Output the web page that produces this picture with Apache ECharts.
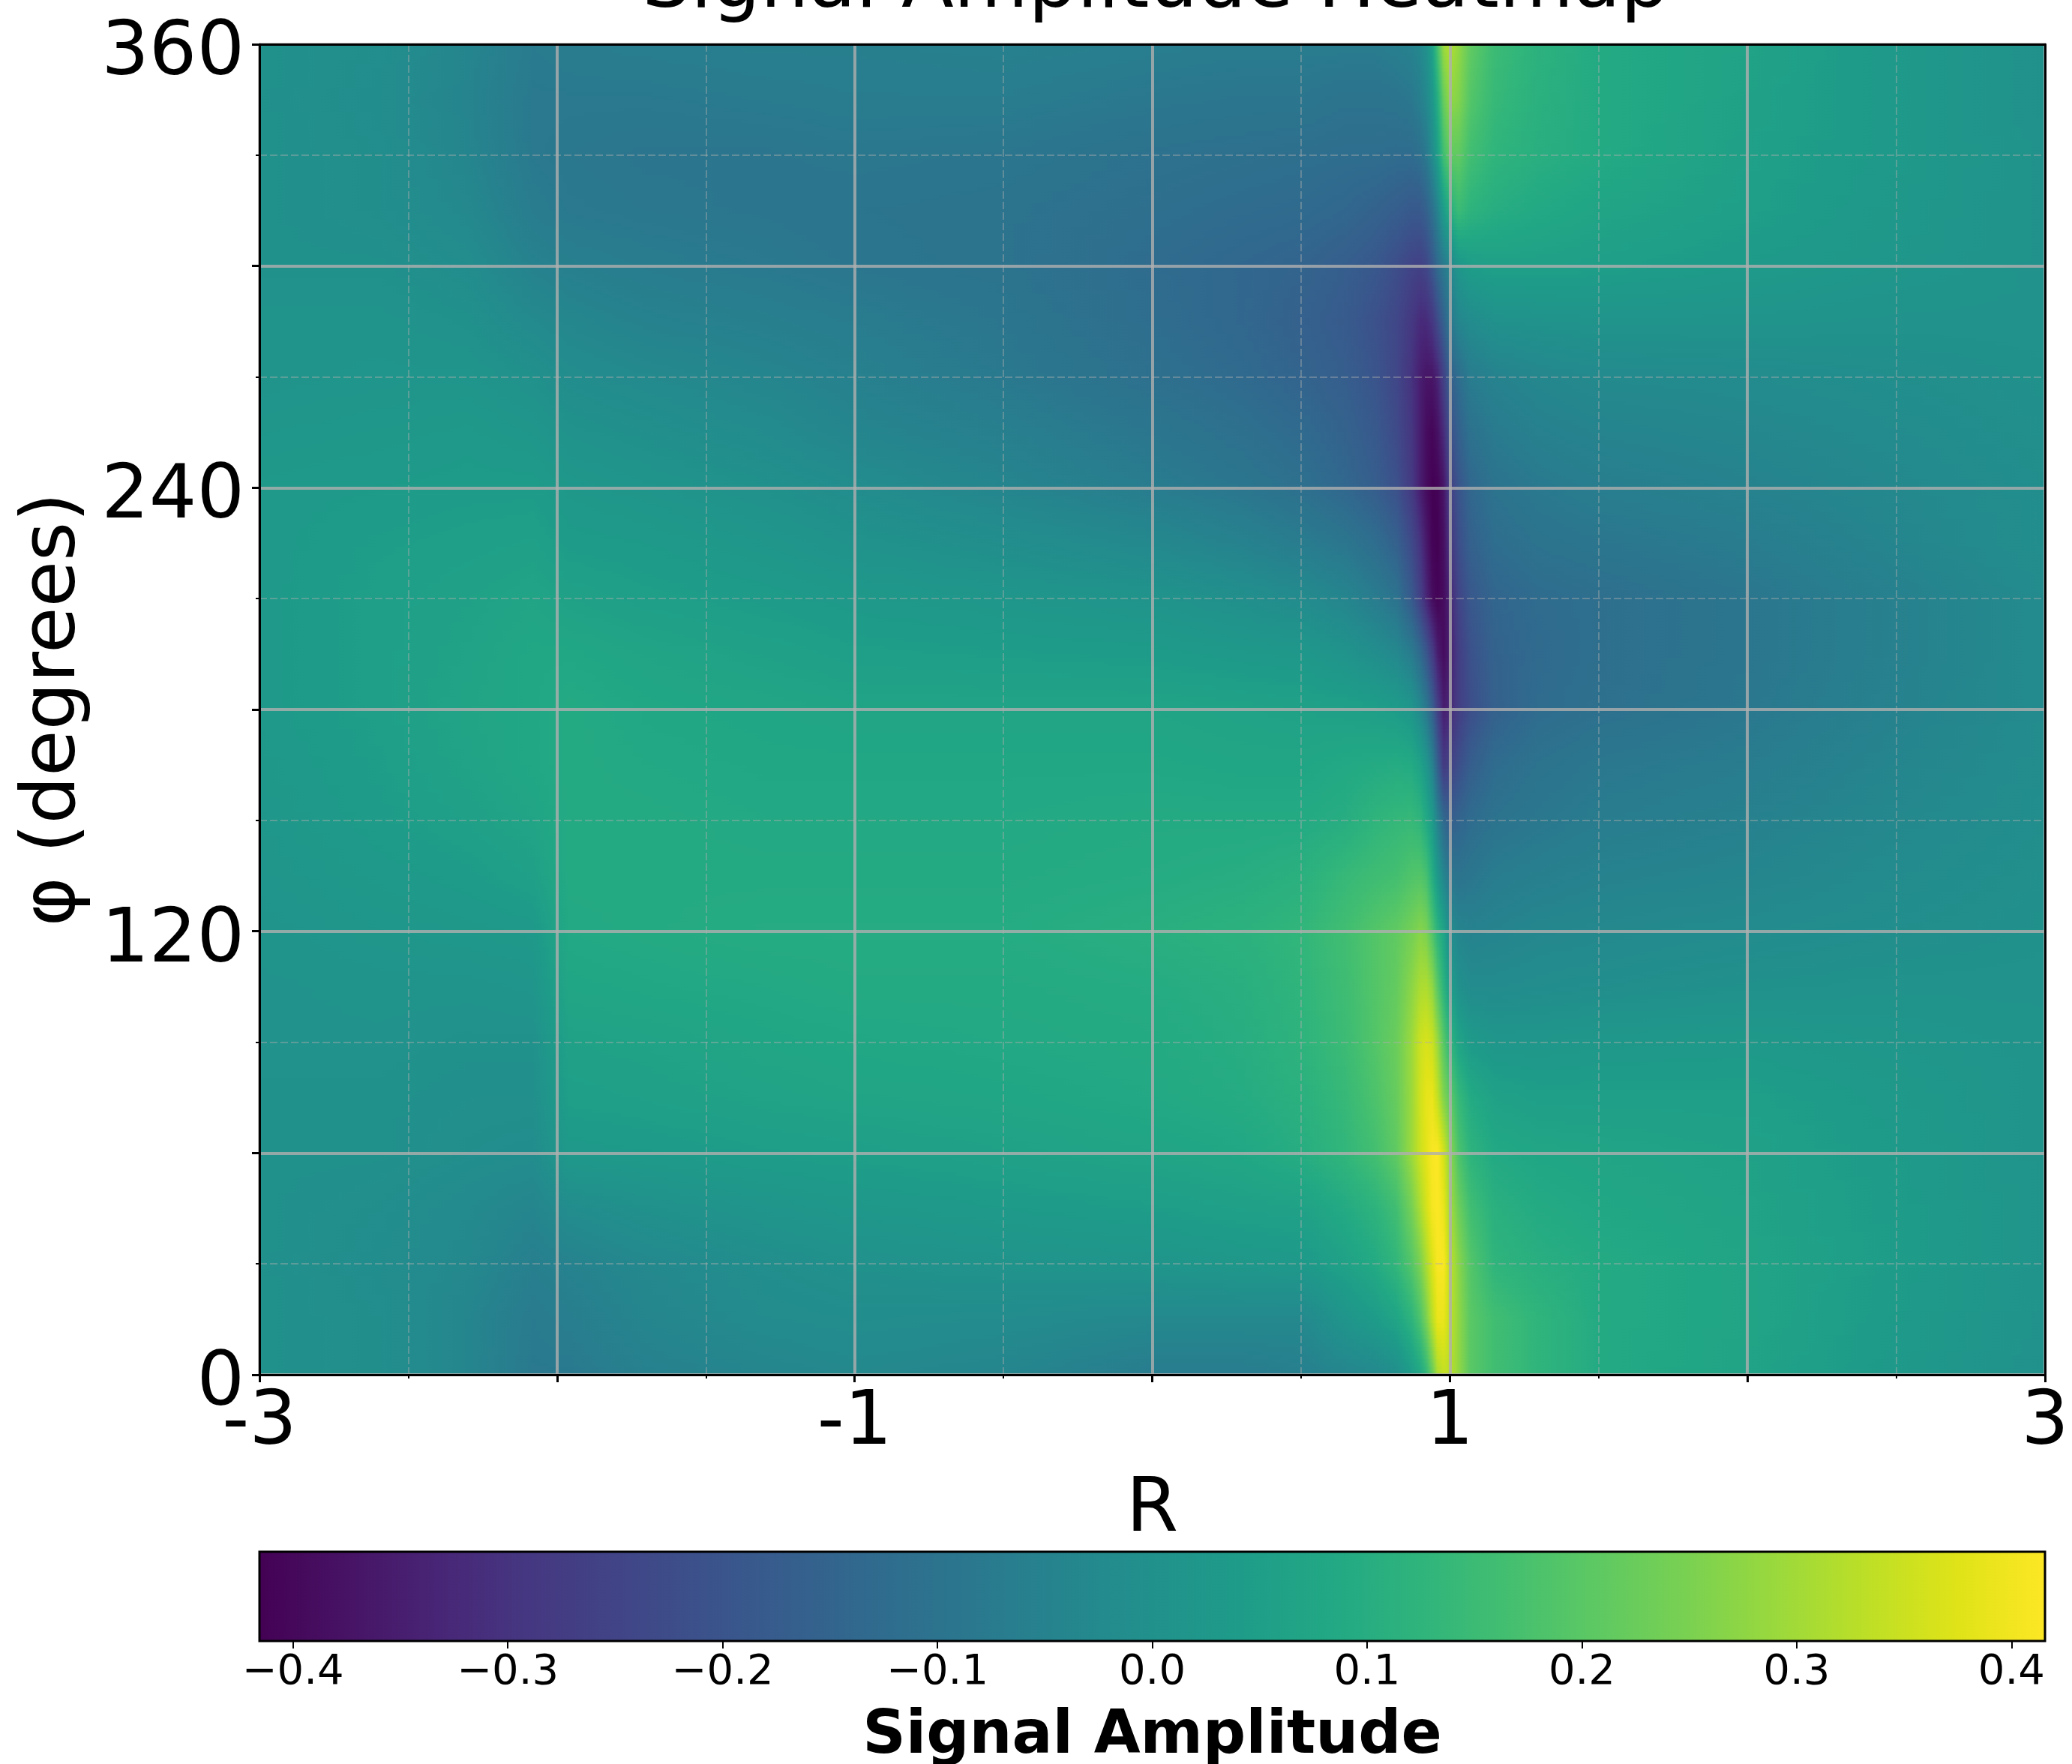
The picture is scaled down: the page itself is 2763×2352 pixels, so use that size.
<!DOCTYPE html>
<html><head><meta charset="utf-8">
<style>html,body{margin:0;padding:0;background:#fff}#c{width:2763px;height:2352px}</style>
<script src="https://cdn.jsdelivr.net/npm/echarts@6/dist/echarts.min.js"></script>
</head><body><div id="c"></div>
<script>
const TITLE = 'Signal Amplitude Heatmap';
const X_NAME = 'R';
const Y_NAME = 'φ (degrees)';
const CBAR_NAME = 'Signal Amplitude';
const X_TICK_LABELS = [-3, -1, 1, 3];
const Y_TICK_LABELS = [0, 120, 240, 360];
const CBAR_TICKS = [-0.4, -0.3, -0.2, -0.1, 0, 0.1, 0.2, 0.3, 0.4];
const V_MIN = -0.4156, V_MAX = 0.4156;
const VIRIDIS = ['#440154','#471365','#482576','#453781','#414487','#3b528b','#355f8d','#2f6c8e','#2a788e','#25858e','#21918c','#1e9c89','#22a884','#2fb47c','#44bf70','#5ec962','#7ad151','#9bd93c','#bddf26','#dfe318','#fde725'];
const R_VALUES = [-3,-2.6,-2.3,-2.08,-1.96,-1.7,-1.3,-1,-0.5,0,0.3,0.5,0.65,0.75,0.82,0.87,0.9,0.92,0.94,0.96,0.98,1,1.03,1.07,1.15,1.3,1.5,2,2.5,3];
const PHI_VALUES = [0,15,30,45,60,75,90,105,120,135,150,165,180,195,210,225,240,255,270,285,300,315,330,345,360];
const AMPLITUDE = [
[.0,-.01,-.04,-.08,-.08,-.055,-.04,-.03,-.04,-.07,-.07,-.06,-.04,-.03,-.01,.04,.08,.13,.22,.31,.34,.33,.28,.2,.16,.125,.09,.065,.03,0],
[.0,-.01,-.04,-.075,-.065,-.04,-.02,-.015,-.02,-.03,-.03,-.03,.015,.04,.07,.12,.18,.25,.33,.39,.39,.34,.28,.2,.16,.125,.09,.07,.035,.005],
[.0,-.015,-.03,-.06,-.05,-.03,-.01,.0,.01,.015,.025,.03,.06,.09,.13,.19,.25,.31,.37,.41,.41,.34,.27,.19,.125,.105,.09,.07,.04,.01],
[.0,-.01,-.025,-.04,-.015,.0,.015,.025,.035,.045,.055,.06,.09,.12,.16,.24,.31,.36,.405,.415,.39,.31,.23,.16,.11,.09,.08,.065,.04,.01],
[.0,.0,-.01,-.015,.03,.035,.045,.05,.06,.07,.08,.1,.13,.165,.21,.29,.35,.38,.41,.415,.36,.28,.18,.12,.085,.075,.07,.06,.035,.01],
[.0,.0,-.005,-.005,.05,.055,.065,.07,.075,.085,.095,.11,.14,.18,.22,.29,.355,.385,.39,.34,.26,.21,.14,.09,.06,.05,.05,.05,.03,.01],
[.005,.005,.0,.0,.06,.065,.075,.08,.085,.09,.1,.12,.15,.19,.225,.29,.35,.365,.35,.29,.2,.13,.07,.035,.02,.02,.025,.03,.02,.01],
[.005,.01,.01,.015,.075,.08,.085,.09,.09,.095,.105,.125,.155,.19,.215,.27,.31,.315,.28,.2,.12,.05,.0,-.02,-.02,-.015,-.01,.0,.005,.005],
[.01,.02,.025,.03,.085,.09,.095,.095,.095,.105,.115,.13,.16,.19,.21,.24,.265,.25,.185,.12,.07,-.015,-.04,-.05,-.045,-.035,-.03,-.02,-.01,0],
[.015,.03,.04,.055,.09,.09,.09,.09,.09,.095,.1,.11,.14,.155,.165,.185,.19,.17,.1,.03,-.04,-.09,-.1,-.09,-.07,-.06,-.05,-.04,-.02,-.005],
[.02,.04,.055,.07,.09,.09,.085,.085,.085,.09,.09,.09,.1,.125,.135,.14,.125,.085,.04,-.05,-.13,-.17,-.15,-.125,-.1,-.085,-.07,-.055,-.03,-.01],
[.025,.045,.065,.08,.09,.085,.08,.08,.08,.08,.075,.075,.085,.09,.095,.09,.06,.02,-.05,-.16,-.28,-.26,-.22,-.17,-.125,-.1,-.085,-.07,-.04,-.015],
[.03,.05,.07,.08,.09,.08,.075,.07,.07,.07,.065,.06,.055,.05,.04,.02,-.03,-.08,-.16,-.26,-.35,-.33,-.27,-.22,-.16,-.125,-.11,-.085,-.05,-.02],
[.03,.05,.065,.08,.08,.07,.06,.05,.045,.04,.03,.025,.01,-.01,-.03,-.07,-.13,-.19,-.27,-.35,-.39,-.35,-.27,-.21,-.155,-.13,-.115,-.09,-.055,-.02],
[.03,.05,.06,.07,.06,.05,.04,.03,.02,.01,-.005,-.02,-.04,-.07,-.1,-.18,-.26,-.33,-.39,-.41,-.39,-.34,-.25,-.19,-.145,-.125,-.115,-.09,-.055,-.02],
[.03,.045,.05,.055,.04,.035,.02,.005,-.01,-.03,-.05,-.07,-.09,-.12,-.16,-.23,-.3,-.36,-.41,-.415,-.385,-.3,-.22,-.16,-.12,-.1,-.09,-.07,-.04,-.01],
[.03,.035,.04,.04,.025,.015,.0,-.015,-.04,-.07,-.09,-.11,-.14,-.17,-.21,-.28,-.35,-.39,-.415,-.41,-.37,-.27,-.2,-.14,-.1,-.08,-.065,-.05,-.03,-.01],
[.02,.025,.03,.02,.005,-.005,-.02,-.04,-.06,-.09,-.11,-.13,-.155,-.185,-.23,-.29,-.35,-.39,-.405,-.38,-.32,-.22,-.16,-.105,-.075,-.055,-.045,-.035,-.02,-.005],
[.01,.015,.015,.0,-.015,-.025,-.04,-.055,-.08,-.11,-.13,-.15,-.17,-.2,-.24,-.3,-.35,-.37,-.37,-.34,-.26,-.17,-.12,-.07,-.05,-.035,-.025,-.02,-.01,0],
[.01,.01,.0,-.025,-.035,-.05,-.06,-.07,-.09,-.12,-.14,-.16,-.18,-.21,-.24,-.285,-.32,-.32,-.29,-.23,-.16,-.09,-.04,-.02,.0,.005,.01,.01,.005,.005],
[.0,.0,-.015,-.05,-.06,-.07,-.08,-.09,-.1,-.125,-.14,-.15,-.17,-.19,-.22,-.25,-.26,-.24,-.19,-.13,-.08,-.04,.02,.045,.055,.055,.05,.035,.02,.005],
[.0,-.01,-.03,-.07,-.08,-.085,-.09,-.095,-.1,-.115,-.125,-.13,-.14,-.155,-.17,-.185,-.185,-.16,-.11,-.05,.04,.1,.15,.12,.1,.085,.07,.05,.025,.005],
[.0,-.01,-.04,-.08,-.085,-.09,-.09,-.085,-.09,-.105,-.11,-.115,-.12,-.12,-.125,-.125,-.11,-.08,-.02,.05,.16,.21,.21,.16,.125,.105,.09,.055,.03,.005],
[.0,-.015,-.045,-.08,-.08,-.08,-.075,-.07,-.07,-.085,-.09,-.09,-.1,-.1,-.095,-.085,-.06,-.03,.02,.10,.22,.28,.26,.19,.14,.11,.09,.06,.03,0],
[.0,-.01,-.04,-.075,-.07,-.065,-.06,-.06,-.055,-.065,-.07,-.07,-.07,-.07,-.06,-.05,-.03,0,.06,.17,.29,.32,.28,.21,.15,.115,.09,.065,.03,0]
];

const FONT = '"DejaVu Sans"';
function lerpColor(t){
  const p = Math.max(0, Math.min(1, t)) * (VIRIDIS.length - 1);
  const i = Math.min(VIRIDIS.length - 2, Math.floor(p)), f = p - i;
  const a = VIRIDIS[i], b = VIRIDIS[i + 1];
  const ch = k => {
    const x = parseInt(a.substr(k, 2), 16), y = parseInt(b.substr(k, 2), 16);
    return Math.round(x + (y - x) * f);
  };
  return 'rgb(' + ch(1) + ',' + ch(3) + ',' + ch(5) + ')';
}
const norm = v => (v - V_MIN) / (V_MAX - V_MIN);

const cells = [];
for (let j = 0; j < PHI_VALUES.length - 1; j++) for (let i = 0; i < R_VALUES.length - 1; i++) {
  cells.push([R_VALUES[i], R_VALUES[i + 1], PHI_VALUES[j], PHI_VALUES[j + 1],
    AMPLITUDE[j][i], AMPLITUDE[j][i + 1], AMPLITUDE[j + 1][i], AMPLITUDE[j + 1][i + 1]]);
}

function renderCell(params, api) {
  const p0 = api.coord([api.value(0), api.value(2)]);
  const p1 = api.coord([api.value(1), api.value(3)]);
  const v00 = api.value(4), v10 = api.value(5), v01 = api.value(6), v11 = api.value(7);
  const x0 = Math.round(p0[0]), x1 = Math.round(p1[0]);
  const yb = Math.round(p0[1]), yt = Math.round(p1[1]);
  const STRIPS = 14, STOPS = 8, children = [];
  for (let s = 0; s < STRIPS; s++) {
    const ya = Math.round(yb + (yt - yb) * s / STRIPS), yz = Math.round(yb + (yt - yb) * (s + 1) / STRIPS);
    const f = (s + 0.5) / STRIPS;
    const vl = v00 + (v01 - v00) * f, vr = v10 + (v11 - v10) * f;
    const colorStops = [];
    for (let k = 0; k <= STOPS; k++) {
      const g = k / STOPS;
      colorStops.push({ offset: g, color: lerpColor(norm(vl + (vr - vl) * g)) });
    }
    children.push({
      type: 'rect', silent: true,
      shape: { x: x0, y: yz, width: x1 - x0, height: ya - yz },
      style: { fill: { type: 'linear', x: 0, y: 0, x2: 1, y2: 0, colorStops }, stroke: null }
    });
  }
  return { type: 'group', children };
}

function renderCbar(params, api) {
  const a = api.coord([V_MIN, 0]), b = api.coord([V_MAX, 1]);
  return {
    type: 'rect', silent: true,
    shape: { x: a[0], y: b[1], width: b[0] - a[0], height: a[1] - b[1] },
    style: {
      fill: { type: 'linear', x: 0, y: 0, x2: 1, y2: 0,
        colorStops: VIRIDIS.map((c, i) => ({ offset: i / (VIRIDIS.length - 1), color: c })) },
      stroke: '#000', lineWidth: 3
    }
  };
}

const chart = echarts.init(document.getElementById('c'), null, { width: 2763, height: 2352, renderer: 'canvas' });
const hiddenAxisParts = { axisTick: { show: false }, axisLabel: { show: false }, splitLine: { show: false } };
const frame = { show: true, onZero: false, lineStyle: { color: '#000', width: 3 } };
const major = { show: true, lineStyle: { color: 'rgba(175,175,175,0.8)', width: 4 } };
const minor = { show: true, lineStyle: { color: 'rgba(175,175,175,0.42)', width: 2, type: [10, 4] } };
chart.setOption({
  animation: false,
  backgroundColor: '#fff',
  textStyle: { fontFamily: FONT },
  title: { text: TITLE, left: 1536, textAlign: 'center', top: -74,
    textStyle: { fontFamily: FONT, fontSize: 102, fontWeight: 'normal', color: '#000' } },
  grid: [
    { left: 346, top: 59, width: 2381, height: 1774, outerBoundsMode: 'none', containLabel: false },
    { left: 346, top: 2069, width: 2381, height: 119, outerBoundsMode: 'none', containLabel: false }
  ],
  xAxis: [
    { type: 'value', gridIndex: 0, min: -3, max: 3, interval: 1, z: 10, position: 'bottom',
      name: X_NAME, nameLocation: 'middle', nameGap: 132,
      nameTextStyle: { fontFamily: FONT, fontSize: 100, color: '#000' },
      axisLine: frame, axisTick: { show: true, length: 10, lineStyle: { color: '#000', width: 3 } },
      minorTick: { show: true, splitNumber: 2, length: 5, lineStyle: { color: '#000', width: 2 } },
      splitLine: major, minorSplitLine: minor,
      axisLabel: { show: true, margin: 16, fontFamily: FONT, fontSize: 100, color: '#000',
        formatter: v => X_TICK_LABELS.includes(v) ? String(v) : '' } },
    { type: 'value', gridIndex: 0, min: -3, max: 3, z: 10, position: 'top', axisLine: frame, ...hiddenAxisParts },
    { type: 'value', gridIndex: 1, min: V_MIN, max: V_MAX, z: 10, position: 'bottom',
      name: CBAR_NAME, nameLocation: 'middle', nameGap: 88,
      nameTextStyle: { fontFamily: FONT, fontSize: 80, fontWeight: 'bold', color: '#000' },
      axisLine: { show: false, onZero: false }, splitLine: { show: false },
      axisTick: { show: true, length: 10, customValues: CBAR_TICKS, lineStyle: { color: '#000', width: 2 } },
      axisLabel: { show: true, margin: 14, fontFamily: FONT, fontSize: 56, color: '#000',
        customValues: CBAR_TICKS, formatter: v => (v < 0 ? '\u2212' : '') + Math.abs(v).toFixed(1) } }
  ],
  yAxis: [
    { type: 'value', gridIndex: 0, min: 0, max: 360, interval: 60, z: 10, position: 'left',
      name: Y_NAME, nameLocation: 'middle', nameGap: 223, nameRotate: 90,
      nameTextStyle: { fontFamily: FONT, fontSize: 100, color: '#000' },
      axisLine: frame, axisTick: { show: true, length: 10, lineStyle: { color: '#000', width: 3 } },
      minorTick: { show: true, splitNumber: 2, length: 5, lineStyle: { color: '#000', width: 2 } },
      splitLine: major, minorSplitLine: minor,
      axisLabel: { show: true, margin: 20, fontFamily: FONT, fontSize: 100, color: '#000',
        lineHeight: 28, verticalAlign: 'top',
        formatter: v => Y_TICK_LABELS.includes(v) ? String(v) : '' } },
    { type: 'value', gridIndex: 0, min: 0, max: 360, z: 10, position: 'right', axisLine: frame, ...hiddenAxisParts },
    { type: 'value', gridIndex: 1, min: 0, max: 1, show: false }
  ],
  series: [
    { type: 'custom', name: 'Signal Amplitude', xAxisIndex: 0, yAxisIndex: 0, z: 2, clip: true, silent: true,
      encode: { x: [0, 1], y: [2, 3] }, data: cells, renderItem: renderCell },
    { type: 'custom', name: 'Colorbar', xAxisIndex: 2, yAxisIndex: 2, z: 2, silent: true,
      encode: { x: 0, y: 1 }, data: [[V_MIN, 0]], renderItem: renderCbar }
  ]
});
</script></body></html>
